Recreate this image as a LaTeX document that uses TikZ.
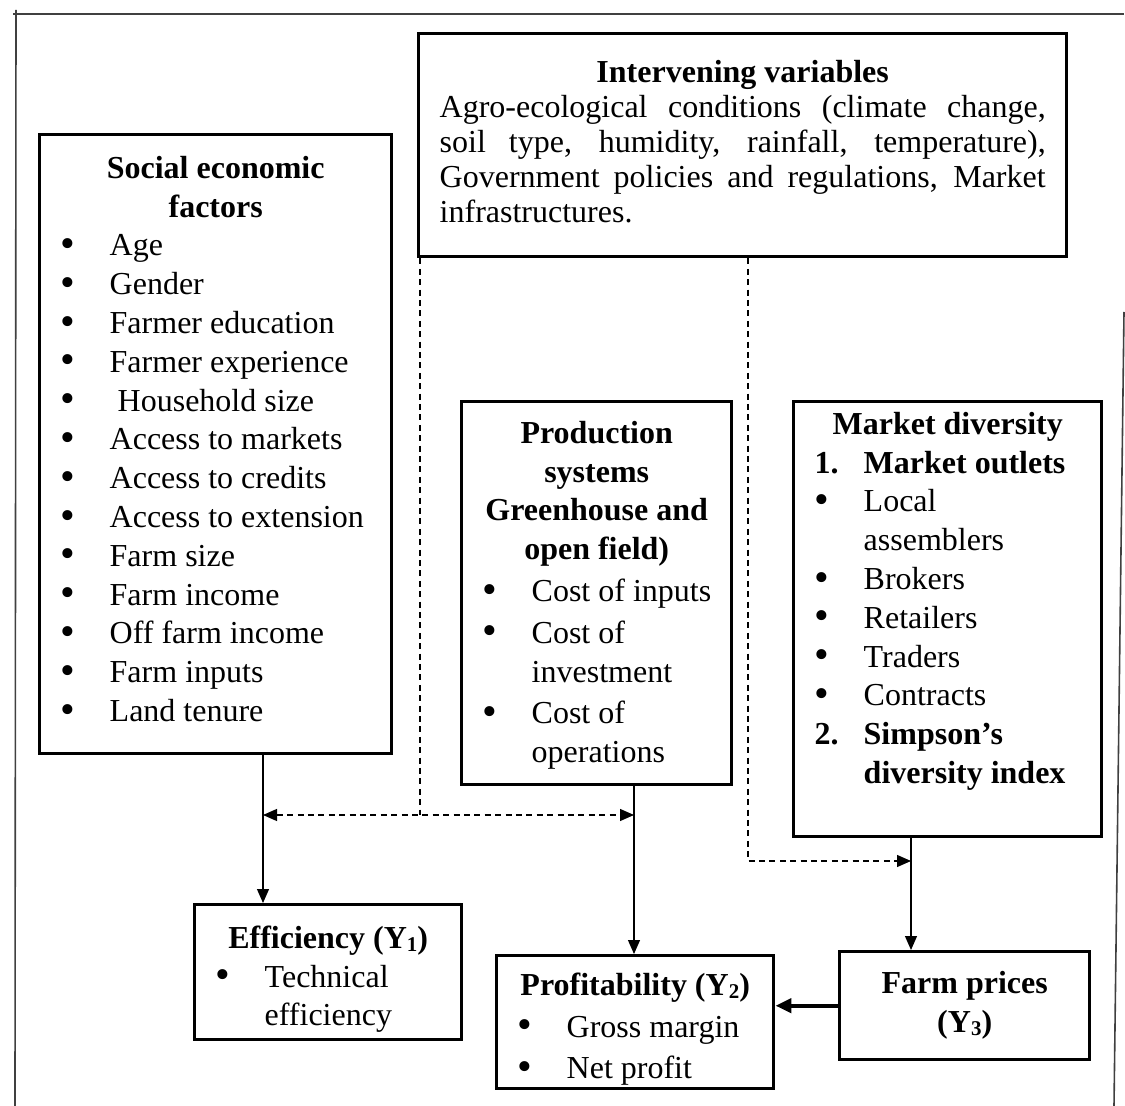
\documentclass[tikz,border=0pt]{standalone}
\usepackage{fontspec}
\setmainfont{Liberation Serif}
\usetikzlibrary{arrows.meta}
% bullet and list helpers
\newcommand{\bulsym}{\raisebox{-0.8pt}{\fontsize{21}{21}\selectfont\textbullet}}
\newcommand{\bul}[1]{\makebox[31pt][l]{\hspace*{6.6pt}\bulsym}#1}
\newcommand{\nitem}[2]{\makebox[31pt][l]{\hspace*{6.5pt}\bfseries #1}\textbf{#2}}
\newcommand{\wrapline}[1]{\hspace*{31pt}#1}
\newcommand{\ysub}[1]{\raisebox{-1.6pt}{\fontsize{10.5}{10}\selectfont #1}}
% width, height, top gap, text
\newcommand{\boxtext}[4]{\begin{minipage}[t][#2][t]{#1}\vspace*{#3}#4\end{minipage}}
\tikzset{
    %Define standard arrow tip
    >={Triangle[length=7pt,width=6pt]},
    %Define style for boxes
    factor/.style={
           rectangle,
           draw=black, line width=1.7pt,
           inner xsep=4pt, inner ysep=0pt,
           anchor=north west,
           font=\fontsize{16}{19.4}\selectfont,
           },
    % Define arrow styles
    link/.style={
           black, line width=0.6pt,},
    dlink/.style={
           link, dash pattern=on 3pt off 2.2pt,},
    frame/.style={
           black!75, line width=0.8pt,}
}
\begin{document}
\begin{tikzpicture}[x=0.5pt,y=-0.5pt]
\useasboundingbox (0,0) rectangle (1125,1106);
% page frame
\draw[frame] (13,14) -- (1124,14);
\draw[frame] (16,10) -- (15,1106);
\draw[frame] (1124,312) -- (1114,1106);
\node[factor] (1) at (38,133) {\boxtext{168pt}{309.5pt}{10.7pt}{%
{\centering\bfseries Social economic\\ factors\par}
\bul{Age}\\
\bul{Gender}\\
\bul{Farmer education}\\
\bul{Farmer experience}\\
\bul{\hspace*{4pt}Household size}\\
\bul{Access to markets}\\
\bul{Access to credits}\\
\bul{Access to extension}\\
\bul{Farm size}\\
\bul{Farm income}\\
\bul{Off farm income}\\
\bul{Farm inputs}\\
\bul{Land tenure}}};
\node[factor, inner xsep=10.5pt, font=\fontsize{16}{17.5}\selectfont] (2) at (417,32) {\boxtext{303pt}{111.5pt}{13.2pt}{%
{\centering\bfseries Intervening variables\par}
\makebox[\linewidth][s]{Agro-ecological conditions (climate change,}\\
\makebox[\linewidth][s]{soil type, humidity, rainfall, temperature),}\\
\makebox[\linewidth][s]{Government policies and regulations, Market}\\
infrastructures.}};
\node[factor] (3) at (460,400) {\boxtext{127pt}{191.5pt}{9.7pt}{%
{\centering\bfseries Production\\ systems\\ Greenhouse and\\ open field)\par}
\vspace{1.5pt}
\bul{Cost of inputs}\\[1.5pt]
\bul{Cost of}\\
\wrapline{investment}\\[1.5pt]
\bul{Cost of}\\
\wrapline{operations}}};
\node[factor] (4) at (792,400) {\boxtext{146pt}{217.5pt}{5.2pt}{%
{\centering\bfseries Market diversity\par}
\nitem{1.}{Market outlets}\\
\bul{Local}\\
\wrapline{assemblers}\\
\bul{Brokers}\\
\bul{Retailers}\\
\bul{Traders}\\
\bul{Contracts}\\
\nitem{2.}{Simpson’s}\\
\wrapline{\textbf{diversity index}}}};
\node[factor] (5) at (193,903) {\boxtext{125.5pt}{67.5pt}{10.5pt}{%
{\centering\bfseries Efficiency (Y\ysub{1})\par}
\bul{Technical}\\
\wrapline{efficiency}}};
\node[factor] (6) at (495,954) {\boxtext{130.5pt}{66.5pt}{8.5pt}{%
{\centering\bfseries Profitability (Y\ysub{2})\par}
\vspace{1.5pt}
\bul{Gross margin}\\[1.5pt]
\bul{Net profit}}};
\node[factor, align=center, minimum width=125pt, minimum height=54pt, font=\fontsize{16}{19.4}\selectfont\bfseries] (7) at (838,950) {Farm prices\\ (Y\ysub{3})};
% connector points
\coordinate (l) at ([xshift=112.5pt]1.south west);
\coordinate (r) at ([xshift=87pt]3.south west);
\coordinate (m) at ([xshift=59.5pt]4.south west);
\coordinate (dy) at (0,815);
\coordinate (ey) at (0,861);
\draw[link,->] (l) -- (l |- 5.north);
\draw[link,->] (r) -- (r |- 6.north);
\draw[link,->] (m) -- (m |- 7.north);
\draw[dlink,<->] (l |- dy) -- (r |- dy);
\draw[dlink] ([xshift=1.5pt]2.south west) -- ([xshift=1.5pt]2.south west |- dy);
\draw[dlink,->] ([xshift=165.5pt]2.south west) |- (m |- ey);
\draw[link, line width=2pt, -{Triangle[length=8pt,width=7pt]}] (7.west) -- (7.west -| 6.east);
\end{tikzpicture}
\end{document}
